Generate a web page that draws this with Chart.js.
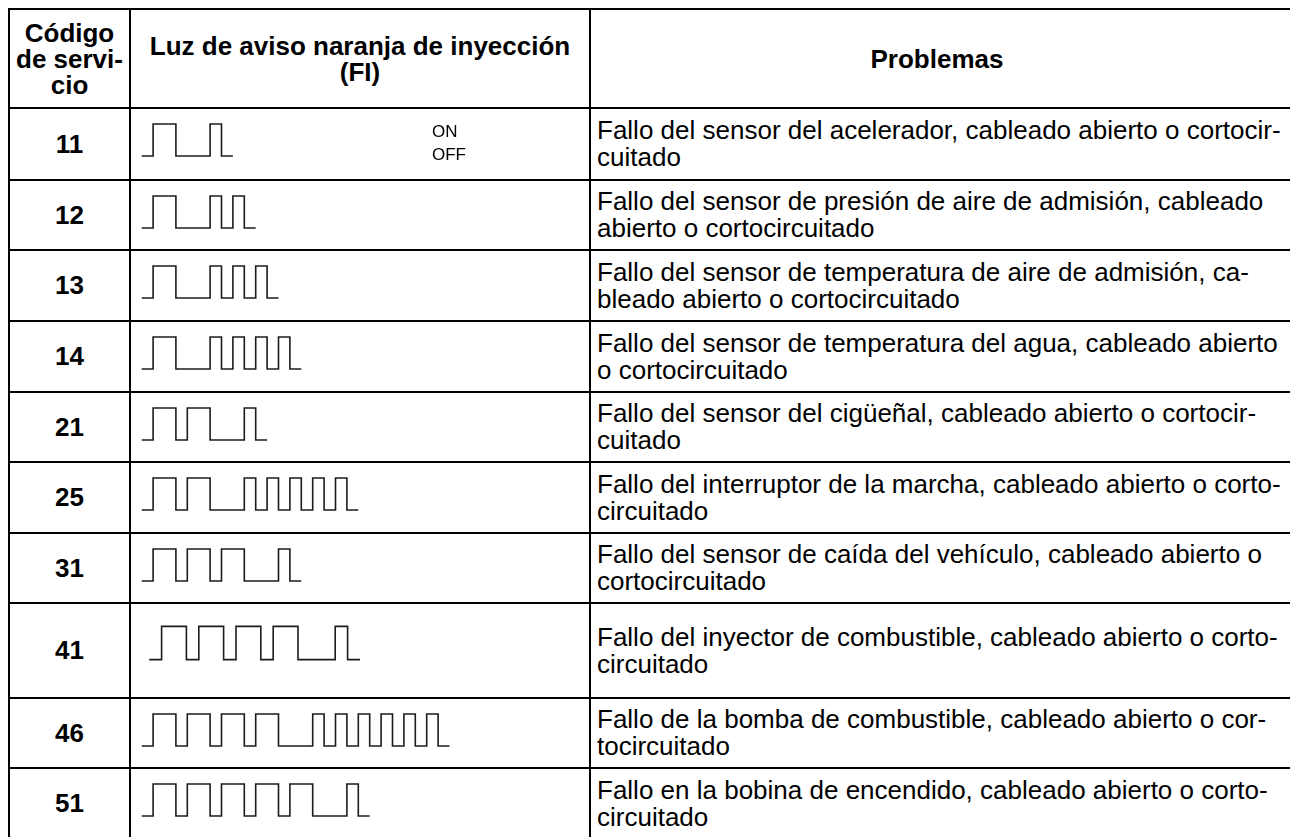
<!DOCTYPE html>
<html>
<head>
<meta charset="utf-8">
<script src="https://cdn.jsdelivr.net/npm/chart.js@4/dist/chart.umd.min.js"></script>
<style>
  html, body { margin: 0; padding: 0; background: #fff; overflow: hidden; }
  body { width: 1290px; height: 837px; position: relative; font-family: "Liberation Sans", Arial, sans-serif; color: #000; }
  .hline { position: absolute; height: 2px; background: #000; }
  .vline { position: absolute; width: 2px; background: #000; }
  .cell { position: absolute; display: flex; align-items: center; box-sizing: border-box; }
  .head { font-weight: bold; font-size: 26px; line-height: 26px; justify-content: center; text-align: center; white-space: pre; }
  .code { font-weight: bold; font-size: 26px; justify-content: center; }
  .prob { font-size: 26px; line-height: 27px; padding-left: 7px; white-space: pre; }
  .wave { position: absolute; }
  .onoff { position: absolute; font-size: 17px; line-height: 23px; }
</style>
</head>
<body>
<div id="sheet"></div>
<script>
// table content
const headers = ["Código\nde servi-\ncio", "Luz de aviso naranja de inyección\n(FI)", "Problemas"];
const codes = ["11", "12", "13", "14", "21", "25", "31", "41", "46", "51"];
const longPulses = [1, 1, 1, 1, 2, 2, 3, 4, 4, 5];
const shortPulses = [1, 2, 3, 4, 1, 5, 1, 1, 6, 1];
const problems = [
  "Fallo del sensor del acelerador, cableado abierto o cortocir-\ncuitado",
  "Fallo del sensor de presión de aire de admisión, cableado\nabierto o cortocircuitado",
  "Fallo del sensor de temperatura de aire de admisión, ca-\nbleado abierto o cortocircuitado",
  "Fallo del sensor de temperatura del agua, cableado abierto\no cortocircuitado",
  "Fallo del sensor del cigüeñal, cableado abierto o cortocir-\ncuitado",
  "Fallo del interruptor de la marcha, cableado abierto o corto-\ncircuitado",
  "Fallo del sensor de caída del vehículo, cableado abierto o\ncortocircuitado",
  "Fallo del inyector de combustible, cableado abierto o corto-\ncircuitado",
  "Fallo de la bomba de combustible, cableado abierto o cor-\ntocircuitado",
  "Fallo en la bobina de encendido, cableado abierto o corto-\ncircuitado"
];
const levelLabels = ["ON", "OFF"];

// layout
const rowLines = [9, 108, 180, 250, 321, 392, 462, 533, 603, 698, 768, 839];
const colLines = [9, 130, 590, 1300];

const sheet = document.getElementById("sheet");

function addDiv(cls, style, text) {
  const el = document.createElement("div");
  el.className = cls;
  Object.assign(el.style, style);
  if (text !== undefined) el.textContent = text;
  sheet.appendChild(el);
  return el;
}

rowLines.forEach((y) => addDiv("hline", { left: "8px", top: (y - 1) + "px", width: "1300px" }));
colLines.forEach((x) => addDiv("vline", { left: (x - 1) + "px", top: "8px", height: "840px" }));

// header row
headers.forEach((h, i) => {
  addDiv("cell head", {
    left: colLines[i] + "px", top: rowLines[0] + "px",
    width: (i === 2 ? 694 : colLines[i + 1] - colLines[i]) + "px",
    height: (rowLines[1] - rowLines[0]) + "px",
  }, h);
});

function pulseTrain(nLong, nShort) {
  const pts = [{ x: 0, y: 0 }];
  let t = 1;
  for (let i = 0; i < nLong; i++) {
    pts.push({ x: t, y: 1 });
    t += 2;
    pts.push({ x: t, y: 0 });
    t += i < nLong - 1 ? 1 : 3;
  }
  for (let i = 0; i < nShort; i++) {
    pts.push({ x: t, y: 1 });
    t += 1;
    pts.push({ x: t, y: 0 });
    t += 1;
  }
  pts.push({ x: t, y: 0 });
  return pts;
}

function drawWave(row, nLong, nShort) {
  const top = rowLines[row + 1];
  const tall = codes[row] === "41";
  const unit = tall ? 12.4 : 11.4;
  const high = tall ? 33 : 32;
  const startX = tall ? 149.3 : 141.7;
  const waveTop = top + (tall ? 23 : 15.5);
  const w = 440, h = Math.round(high * 1.5);

  const canvas = document.createElement("canvas");
  canvas.className = "wave";
  canvas.width = w;
  canvas.height = h;
  canvas.style.left = (startX - unit * 0.5) + "px";
  canvas.style.top = (waveTop - high * 0.25) + "px";
  canvas.style.width = w + "px";
  canvas.style.height = h + "px";
  sheet.appendChild(canvas);

  new Chart(canvas, {
    type: "line",
    data: {
      datasets: [{
        data: pulseTrain(nLong, nShort),
        stepped: "before",
        borderColor: "#1c1c1c",
        borderWidth: 1.6,
        pointRadius: 0,
        fill: false,
        borderJoinStyle: "miter",
        borderCapStyle: "butt",
      }],
    },
    options: {
      responsive: false,
      animation: false,
      devicePixelRatio: 1,
      events: [],
      layout: { padding: 0 },
      plugins: { legend: { display: false }, tooltip: { enabled: false } },
      scales: {
        x: { type: "linear", display: false, min: -0.5, max: -0.5 + w / unit },
        y: { display: false, min: -0.25, max: 1.25 },
      },
    },
  });
}

codes.forEach((code, r) => {
  const top = rowLines[r + 1], bottom = rowLines[r + 2];
  addDiv("cell code", {
    left: colLines[0] + "px", top: top + "px",
    width: (colLines[1] - colLines[0]) + "px", height: (bottom - top) + "px",
  }, code);
  addDiv("cell prob", {
    left: colLines[2] + "px", top: top + "px",
    width: "700px", height: (bottom - top) + "px",
  }, problems[r]);
  drawWave(r, longPulses[r], shortPulses[r]);
});

// ON / OFF key beside the first waveform
levelLabels.forEach((t, i) => {
  addDiv("onoff", { left: "432px", top: (120 + i * 23) + "px" }, t);
});
</script>
</body>
</html>
